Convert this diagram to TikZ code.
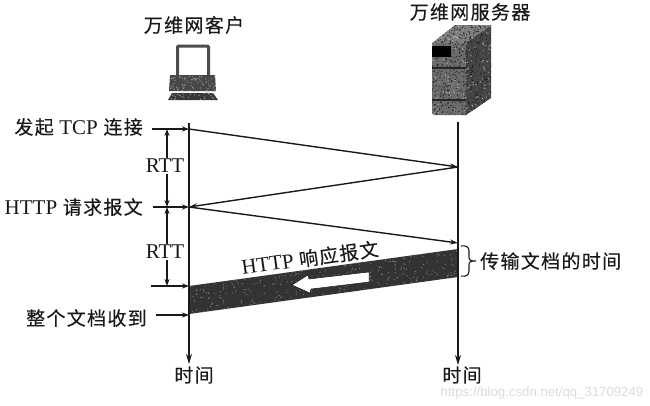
\documentclass[tikz,border=0pt]{standalone}
\usepackage{fontspec}
\setmainfont{Liberation Serif}
\newfontfamily\cjk[LetterSpace=7,FakeBold=0.25]{Noto Sans CJK SC}
\newfontfamily\wmfont{Liberation Sans}
\newcommand{\lat}[1]{{\fontsize{21}{22}\selectfont\rmfamily #1}}
\usetikzlibrary{arrows.meta,calc}
\tikzset{
  flow/.style={line width=1.4pt,draw=black!90,-{Stealth[length=8pt,width=5pt]}},
  tick/.style={line width=1.2pt,draw=black!90,-{Stealth[length=7pt,width=5pt]}},
  rttline/.style={line width=1.2pt,draw=black!90,-{Stealth[length=7pt,width=5pt]}},
  timeline/.style={line width=1.5pt,draw=black!90,-{Stealth[length=10pt,width=6pt]}},
  lbl/.style={inner sep=0pt,font=\fontsize{19}{22}\selectfont\cjk,text=black!90},
  rtt/.style={inner sep=1pt,font=\fontsize{21}{22}\selectfont,text=black!90},
}
\newcommand{\speckle}[6]{% count, x, y, w, h, colour
  \foreach \i in {1,...,#1}{%
    \pgfmathrandominteger{\rx}{0}{1000}\pgfmathrandominteger{\ry}{0}{1000}%
    \fill[#6] ({#2+#4*(\rx/1000)},{#3+#5*(\ry/1000)}) circle (0.6);}}
\begin{document}
\begin{tikzpicture}[x=1pt,y=-1pt]
\useasboundingbox (0,0) rectangle (650,405);
% --- named anchors
\coordinate (ctop) at (189,123); \coordinate (cbot) at (189,364);
\coordinate (stop) at (458,122); \coordinate (sbot) at (458,365);
\coordinate (c1) at (189,129); \coordinate (s1) at (458,167);
\coordinate (c2) at (189,207); \coordinate (s2) at (458,243);
\coordinate (c3) at (189,286); \coordinate (c4) at (189,314);
\coordinate (s3) at (458,249); \coordinate (s4) at (458,277);
\coordinate (t1) at (152,129); \coordinate (t2) at (153,207);
\coordinate (t3) at (151,286); \coordinate (t4) at (156,315);
\pgfmathsetseed{42}
% --- client icon
\draw[black!70,line width=3pt,rounded corners=1pt] (177.5,75) -- (177.5,46) -- (208.5,46) -- (208.5,75);
\fill[black!72] (170,75) -- (215,75) -- (216,91) -- (169,91) -- cycle;
\fill[black!78] (172,93) -- (213,93) -- (218,100) -- (168,100) -- cycle;
\begin{scope}
\clip (170,75) rectangle (216,100);
\speckle{110}{170}{76}{46}{24}{black!35}
\end{scope}
% --- server icon
\fill[black!50] (432,43) -- (455,25) -- (491,25) -- (466,43) -- cycle;
\fill[black!58] (432,43) -- (466,43) -- (466,115) -- (434,115) -- (432,113) -- cycle;
\fill[black!72] (466,43) -- (491,25) -- (491,98) -- (466,115) -- cycle;
\begin{scope}
\clip (432,43) -- (455,25) -- (491,25) -- (491,98) -- (466,115) -- (434,115) -- (432,113) -- cycle;
\speckle{650}{432}{25}{59}{90}{black!88}
\speckle{150}{432}{25}{59}{90}{black!25}
\end{scope}
\fill[black] (432,46) rectangle (451,57);
\fill[black!85] (432,67) rectangle (466,69);
\fill[black!85] (432,99) rectangle (466,101);
% --- band
\begin{scope}
\fill[black!80] (c3) -- (s3) -- (s4) -- (c4) -- cycle;
\clip (c3) -- (s3) -- (s4) -- (c4) -- cycle;
\speckle{700}{189}{249}{269}{65}{black!50}
\end{scope}
\fill[white,draw=black,line width=0.4pt] (369,272) -- (369,282) -- (311,289) -- (310,293) -- (292,285) -- (308,275) -- (309,279) -- cycle;
% --- timelines and messages
\draw[timeline] (ctop) -- (cbot);
\draw[timeline] (stop) -- (sbot);
\draw[flow] (c1) -- (s1);
\draw[flow] (s1) -- (c2);
\draw[flow] (c2) -- (s2);
\draw[tick] (t1) -- (c1);
\draw[tick] (t2) -- (c2);
\draw[tick] (t3) -- (c3);
\draw[tick] (t4) -- (189,315);
% --- RTT
\node[rtt] (r1) at (165,166) {RTT};
\node[rtt] (r2) at (165,252) {RTT};
\coordinate (a1) at (167,129); \coordinate (a2) at (167,207); \coordinate (a3) at (167,286);
\draw[rttline] (r1.north -| a1) -- (a1);
\draw[rttline] (r1.south -| a1) -- (a2);
\draw[rttline] (r2.north -| a1) -- (a2);
\draw[rttline] (r2.south -| a1) -- (a3);
% --- brace
\draw[line width=1.1pt,black!90] (461,246) .. controls (466,245) and (469,247) .. (469,251) -- (469,257) .. controls (469,260) and (470,261) .. (476,261) .. controls (470,261) and (469,262) .. (469,265) -- (469,271) .. controls (469,275) and (466,277) .. (461,276);
% --- labels
\node[lbl] (client) at (194,25) {万维网客户};
\node[lbl] (server) at (470,12) {万维网服务器};
\node[lbl,anchor=east] (l1) at (143,127) {发起 \lat{TCP} 连接};
\node[lbl,anchor=east] (l2) at (143,207) {\lat{HTTP} 请求报文};
\node[lbl,anchor=east] (l3) at (147,318) {整个文档收到};
\node[lbl,anchor=west] (l4) at (480,261) {传输文档的时间};
\node[lbl] (l5) at (194,375) {时间};
\node[lbl] (l6) at (462,375) {时间};
\node[lbl,rotate=8] (l7) at (310,258) {\lat{HTTP} 响应报文};
\node[inner sep=0pt,text=black!14,font=\fontsize{13.2}{15}\selectfont\wmfont] (wm) at (542,393) {https://blog.csdn.net/qq\_31709249};
\end{tikzpicture}
\end{document}
